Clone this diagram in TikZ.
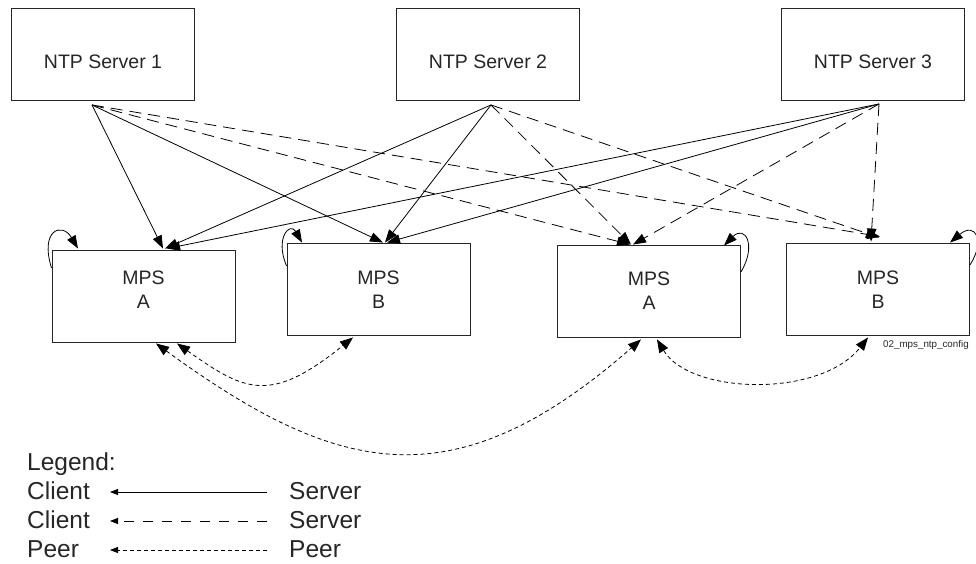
\documentclass[tikz,border=0pt]{standalone}
\usepackage{fontspec}
\setmainfont{Liberation Sans}
\usetikzlibrary{arrows.meta}
\begin{document}
\begin{tikzpicture}[x=1pt,y=-1pt,
  box/.style={draw=black!85, line width=0.9pt, minimum width=183pt, minimum height=92pt, inner sep=0pt},
  srvtxt/.style={font=\fontsize{19.5}{24}\selectfont, inner sep=0pt, anchor=base, text=black!85},
  mpstxt/.style={font=\fontsize{19.5}{24}\selectfont, inner sep=0pt, anchor=north, align=center, text=black!85},
  lgtxt/.style={font=\fontsize{24.5}{29}\selectfont, inner sep=0pt, anchor=base west, text=black!85},
  arrowend/.style={-{Triangle[length=13pt,width=9.5pt]}},
  solidcs/.style={line width=0.8pt, arrowend},
  dashcs/.style={solidcs, dash pattern=on 12pt off 7pt},
  loopline/.style={line width=0.8pt, arrowend},
  peerline/.style={line width=0.8pt, dash pattern=on 4pt off 3pt, {Triangle[length=13pt,width=10pt]}-{Triangle[length=13pt,width=10pt]}},
  lgline/.style={line width=0.8pt, -{Triangle[length=8pt,width=6pt]}},
]
\useasboundingbox (0,0) rectangle (976,563);

% NTP servers
\node[box] (s1) at (103,54.5) {};
\node[box] (s2) at (488,54.5) {};
\node[box] (s3) at (873,54.5) {};
\node[srvtxt] (s1t) at (103,68) {NTP Server 1};
\node[srvtxt] (s2t) at (488,68) {NTP Server 2};
\node[srvtxt] (s3t) at (873,68) {NTP Server 3};

% MPS boxes
\node[box] (a1) at (143.5,296) {};
\node[box] (b1) at (378.5,289.5) {};
\node[box] (a2) at (649,291.5) {};
\node[box] (b2) at (878,289) {};
\node[mpstxt] (a1t) at (143.5,271) {MPS\\A};
\node[mpstxt] (b1t) at (378.5,271) {MPS\\B};
\node[mpstxt] (a2t) at (649,272) {MPS\\A};
\node[mpstxt] (b2t) at (878,271) {MPS\\B};

\node[font=\fontsize{9.8}{11}\selectfont, anchor=base west, inner sep=0pt, text=black!85] (fig) at (883,347) {02\_mps\_ntp\_config};

% server origins
\coordinate (o1) at ([shift={(-11,4)}]s1.south);
\coordinate (o2) at ([shift={(3,4)}]s2.south);
\coordinate (o3) at ([shift={(6,3)}]s3.south);

% solid client-server
\draw[solidcs] (o1) -- ([shift={(19.5,-1)}]a1.north);
\draw[solidcs] (o2) -- ([shift={(21.5,-1)}]a1.north);
\draw[solidcs] (o3) -- ([shift={(23.5,-1)}]a1.north);
\draw[solidcs] (o1) -- ([shift={(4.5,-0.5)}]b1.north);
\draw[solidcs] (o2) -- ([shift={(6.5,-0.5)}]b1.north);
\draw[solidcs] (o3) -- ([shift={(8.5,-0.5)}]b1.north);

% dashed client-server
\draw[dashcs] (o1) -- ([shift={(-19,-0.5)}]a2.north);
\draw[dashcs] (o2) -- ([shift={(-18,-0.5)}]a2.north);
\draw[dashcs] (o3) -- ([shift={(-16,-0.5)}]a2.north);
\draw[dashcs] (o1) -- ([shift={(2,-6)}]b2.north);
\draw[dashcs] (o2) -- ([shift={(1,-5)}]b2.north);
\draw[dashcs] (o3) -- ([shift={(-7,-1)}]b2.north);

% self loops
\draw[loopline] ([shift={(0,-28)}]a1.west) .. controls +(-12,-38) and +(-16,-27) .. ([shift={(-65.5,-1)}]a1.north);
\draw[loopline] ([shift={(0,-23.5)}]b1.west) .. controls +(-12,-28) and +(-12,-21) .. ([shift={(-76.5,-0.5)}]b1.north);
\draw[loopline] ([shift={(0,-19.5)}]a2.east) .. controls +(16,-27) and +(21,-21) .. ([shift={(75,0.5)}]a2.north);
\draw[loopline] ([shift={(0,-24)}]b2.east) .. controls +(16,-25) and +(25,-21) .. ([shift={(72,0)}]b2.north);

% peers
\draw[peerline] ([shift={(33.5,1)}]a1.south) .. controls +(68,48) and +(-83,67) .. ([shift={(-25.5,1.5)}]b1.south);
\draw[peerline] ([shift={(12.5,1)}]a1.south) .. controls +(179,130) and +(-189,166) .. ([shift={(-8,1.5)}]a2.south);
\draw[peerline] ([shift={(8,1.5)}]a2.south) .. controls +(33,55) and +(-48,61) .. ([shift={(-10,2)}]b2.south);

% legend
\node[lgtxt] (lgd) at (27,470) {Legend:};
\node[lgtxt] (c1) at (27,499) {Client};
\node[lgtxt] (v1) at (289,499) {Server};
\node[lgtxt] (c2) at (27,528) {Client};
\node[lgtxt] (v2) at (289,528) {Server};
\node[lgtxt] (p1) at (27,557) {Peer};
\node[lgtxt] (p2) at (289,557) {Peer};
\draw[lgline] ([shift={(-22,-7)}]v1.base west) -- ([shift={(83,-7)}]c1.base west);
\draw[lgline, dash pattern=on 10pt off 9pt] ([shift={(-22,-7)}]v2.base west) -- ([shift={(83,-7)}]c2.base west);
\draw[lgline, dash pattern=on 4pt off 3pt] ([shift={(-22,-7)}]p2.base west) -- ([shift={(83,-7)}]p1.base west);
\end{tikzpicture}
\end{document}
